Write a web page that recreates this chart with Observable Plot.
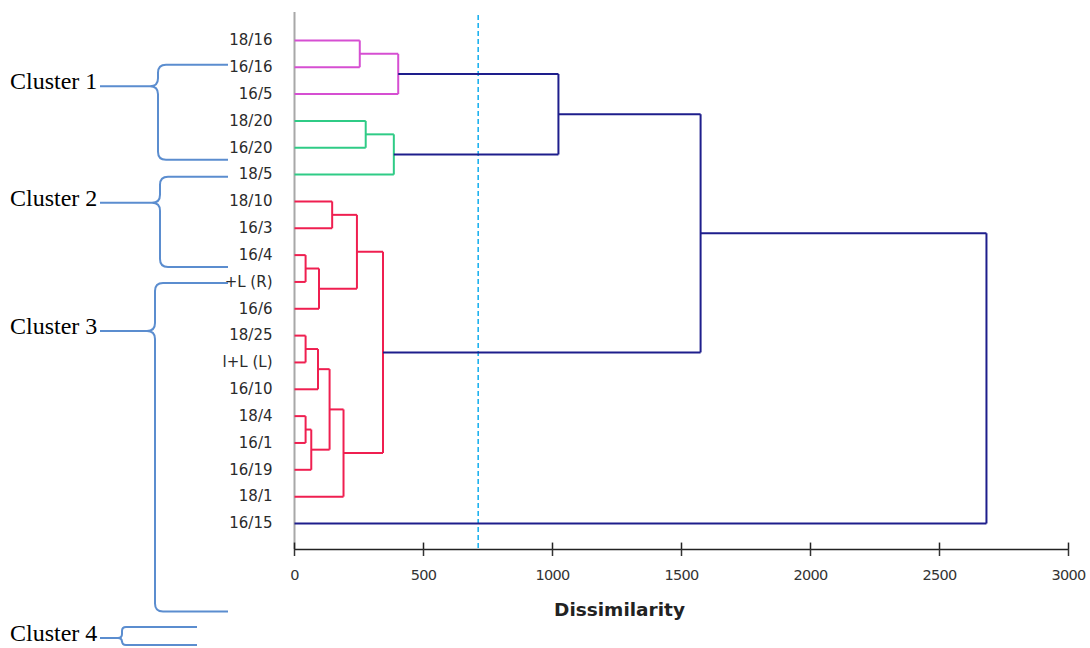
<!DOCTYPE html>
<html><head><meta charset="utf-8">
<script src="https://cdn.jsdelivr.net/npm/d3@7"></script>
<script src="https://cdn.jsdelivr.net/npm/@observablehq/plot@0.6"></script>
<style>
body{margin:0;background:#fff;}
#chart{width:1090px;height:648px;overflow:hidden;}
</style>
</head><body><div id="chart"></div>
<script>
// ---- data ----
const leafLabels = ["18/16","16/16","16/5","18/20","16/20","18/5","18/10","16/3","16/4","+L (R)","16/6","18/25","l+L (L)","16/10","18/4","16/1","16/19","18/1","16/15"];
// agglomeration steps: node ids 0..18 are leaves, step k creates node 19+k
const mergeLeft   = [8, 11, 14, 21, 20, 19, 23, 6, 25, 26, 0, 3, 28, 30, 29, 33, 34, 35];
const mergeRight  = [9, 12, 15, 16, 13, 10, 22, 7, 17, 24, 1, 4, 27, 5, 2, 32, 31, 18];
const mergeHeight = [43, 43, 43, 65, 91, 95, 136, 146, 190, 242, 253, 276, 343, 385, 402, 1023, 1574, 2682];
const mergeGroup  = ["C","C","C","C","C","C","C","C","C","C","A","B","C","B","A","R","R","R"];
const groupNames  = ["A","B","C","R"];
const groupColors = ["#d64fd2","#2fcb86","#ef1f50","#1e1e8c"];
const xTicks = [0, 500, 1000, 1500, 2000, 2500, 3000];
const cutLevel = 712;
const clusterNames = ["Cluster 1","Cluster 2","Cluster 3","Cluster 4"];

// ---- build dendrogram segments ----
const nx = leafLabels.map(() => 0);
const ny = leafLabels.map((_, i) => i);
const segs = [];
mergeHeight.forEach((h, k) => {
  const a = mergeLeft[k], b = mergeRight[k], g = mergeGroup[k];
  const ya = ny[a], yb = ny[b];
  segs.push({x1: nx[a], y1: ya, x2: h, y2: ya, g});
  segs.push({x1: nx[b], y1: yb, x2: h, y2: yb, g});
  segs.push({x1: h, y1: ya, x2: h, y2: yb, g});
  nx.push(h);
  ny.push((ya + yb) / 2);
});

const yBottom = 18.97, yTop = -1.04;

const plot = Plot.plot({
  width: 1090, height: 648,
  marginLeft: 294, marginRight: 22, marginTop: 12, marginBottom: 99,
  x: {domain: [0, 3000], axis: null},
  y: {domain: [yTop, yBottom], reverse: true, axis: null},
  color: {domain: groupNames, range: groupColors},
  style: {fontFamily: "'DejaVu Sans', sans-serif", background: "white", overflow: "visible"},
  marks: [
    Plot.ruleX([0], {stroke: "#a8a8a8", strokeWidth: 2}),
    Plot.ruleY([yBottom], {stroke: "#222", strokeWidth: 1.5}),
    Plot.ruleX(xTicks, {y1: yBottom - 0.24, y2: yBottom, stroke: "#222", strokeWidth: 1.5}),
    Plot.axisX(xTicks, {tickSize: 7, tickPadding: 13, label: null, fontSize: 14.5, color: "#333", strokeWidth: 1.5, tickFormat: d => String(d)}),
    Plot.ruleX([cutLevel], {y1: -0.93, y2: yBottom, stroke: "#1fb2ef", strokeWidth: 1.6, strokeDasharray: "5,3"}),
    Plot.link(segs, {x1: "x1", y1: "y1", x2: "x2", y2: "y2", stroke: "g", strokeWidth: 2}),
    Plot.text(leafLabels, {x: 0, y: (d, i) => i, text: d => d, textAnchor: "end", dx: -22, fontSize: 15, fill: "#2b2b2b"}),
    Plot.text(["Dissimilarity"], {frameAnchor: "bottom", text: d => d, dx: -62, dy: 66, fontSize: 18.5, fontWeight: "bold", fill: "#222"})
  ]
});

d3.select(plot).selectAll('g[aria-label="x-axis tick label"] text').attr("letter-spacing", "-0.7");

// ---- cluster brace annotations (positions in leaf-index units) ----
const ys = plot.scale("y");
const braceSpec = [
  {top: 0.93, tip: 1.73, bottom: 4.47, tipX: 100, spineX: 158, endX: 228, r: 8},
  {top: 5.10, tip: 6.07, bottom: 8.46, tipX: 100, spineX: 160, endX: 228, r: 8},
  {top: 9.06, tip: 10.85, bottom: 21.30, tipX: 100, spineX: 155, endX: 228, r: 8},
  {top: 21.88, tip: 22.29, bottom: 22.55, tipX: 100, spineX: 122, endX: 197, r: 4}
];
function bracePath(tx, sx, rx, ty, my, by, r) {
  return `M${rx},${ty} L${sx + r},${ty} Q${sx},${ty} ${sx},${ty + r} L${sx},${my - r} Q${sx},${my} ${sx - r},${my} L${tx},${my} ` +
         `M${sx - r},${my} Q${sx},${my} ${sx},${my + r} L${sx},${by - r} Q${sx},${by} ${sx + r},${by} L${rx},${by}`;
}
const ann = d3.select(plot).append("g").attr("aria-label", "clusters");
braceSpec.forEach((b, i) => {
  const ty = ys.apply(b.top), my = ys.apply(b.tip), by = ys.apply(b.bottom);
  ann.append("path")
    .attr("d", bracePath(b.tipX, b.spineX, b.endX, ty, my, by, b.r))
    .attr("fill", "none").attr("stroke", "#5b8dcf").attr("stroke-width", 2);
  ann.append("text")
    .attr("x", 10).attr("y", my + 3)
    .attr("text-anchor", "start")
    .attr("font-family", "'Liberation Serif', 'Times New Roman', serif")
    .attr("font-size", 24).attr("fill", "#000")
    .text(clusterNames[i]);
});

document.getElementById("chart").appendChild(plot);
</script>
</body></html>
